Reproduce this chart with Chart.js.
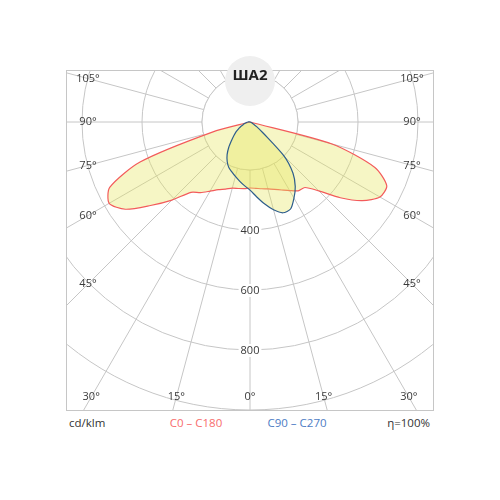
<!DOCTYPE html>
<html>
<head>
<meta charset="utf-8">
<script src="https://cdn.jsdelivr.net/npm/chart.js@4.4.1/dist/chart.umd.min.js"></script>
<style>
  html, body { margin: 0; padding: 0; background: #fff; }
  body { width: 500px; height: 500px; position: relative; overflow: hidden; font-family: "Open Sans", sans-serif; color: #333; }
  #frame { position: absolute; left: 66px; top: 70px; width: 366px; height: 339px; border: 1px solid #c6c6c6; overflow: hidden; }
  #diagram { position: absolute; }
  #badge { position: absolute; left: 225px; top: 56px; width: 50px; height: 50px; border-radius: 50%; background: #efefef; }
  #title { position: absolute; left: 200px; width: 100px; top: 64px; text-align: center; font-weight: bold; font-size: 15px; line-height: 20px; color: #222; }
  .foot { position: absolute; top: 414px; font-size: 11.5px; line-height: 18px; white-space: nowrap; }
</style>
</head>
<body>
<div id="frame"><canvas id="diagram" width="696" height="696"></canvas></div>
<div id="badge"></div>
<div id="title">ША2</div>
<div class="foot" style="left:69px">cd/klm</div>
<div class="foot" style="left:146px;width:100px;text-align:center;color:#f76d6d">C0 – C180</div>
<div class="foot" style="left:247px;width:100px;text-align:center;color:#4d7cc4">C90 – C270</div>
<div class="foot" style="right:70px">η=100%</div>
<script>
// gamma angles, 0° = straight down, 180° = straight up
var gammas = [0, 5, 10, 15, 20, 25, 30, 35, 40, 45, 50, 55, 60, 65, 70, 75, 80, 85, 90,
              95, 100, 105, 110, 115, 120, 125, 130, 135, 140, 145, 150, 155, 160, 165, 170, 175, 180];

// cd/klm, left half of the diagram
var c180 = [260, 263, 265, 268, 278, 289, 306, 327, 346, 408, 473, 547, 582, 556, 430, 170, 40, 40, 40,
            40, 40, 40, 40, 40, 40, 40, 40, 40, 40, 40, 40, 40, 40, 40, 40, 40, 40];
var c270 = [267, 253, 240, 228, 217, 207, 192, 173, 150, 127, 110, 97, 83, 73, 63, 57, 53, 50, 47,
            45, 43, 42, 40, 40, 40, 40, 40, 40, 40, 40, 40, 40, 40, 40, 40, 40, 40];
// cd/klm, right half of the diagram
var c0 = [260, 262, 266, 271, 279, 290, 304, 320, 325, 365, 433, 497, 540, 543, 483, 323, 40, 40, 40,
          40, 40, 40, 40, 40, 40, 40, 40, 40, 40, 40, 40, 40, 40, 40, 40, 40, 40];
var c90 = [267, 290, 317, 343, 362, 360, 333, 303, 263, 200, 97, 67, 53, 47, 43, 40, 40, 40, 40,
           40, 40, 40, 40, 40, 40, 40, 40, 40, 40, 40, 40, 40, 40, 40, 40, 40, 40];

var rings = [200, 400, 600, 800, 1000, 1200];
var ringLabels = [400, 600, 800];
var angleLabels = [0, 15, 30, 45, 60, 75, 90, 105];
var rMin = 40;

var gridColor = '#c6c6c6';
var textColor = '#3a3a3a';
// visible part of the canvas (the frame), in canvas pixels
var view = { x: 165, y: 297, w: 366, h: 339 };

var canvas = document.getElementById('diagram');
canvas.style.left = -view.x + 'px';
canvas.style.top = -view.y + 'px';

var steps = (gammas.length - 1) * 2;
var labels = [];
for (var i = 0; i < steps; i++) labels.push(i * 5 + '°');

function around(left, right) {
    var out = [];
    for (var i = 0; i < steps; i++) out.push(i <= gammas.length - 1 ? left[i] : right[steps - i]);
    return out;
}

var innerDisk = {
    id: 'innerDisk',
    beforeDatasetsDraw: function(chart) {
        var s = chart.scales.r, ctx = chart.ctx;
        var d = s.getDistanceFromCenterForValue(rings[0]);
        ctx.save();
        ctx.beginPath();
        ctx.arc(s.xCenter, s.yCenter, d, 0, Math.PI * 2);
        ctx.fillStyle = '#fff';
        ctx.fill();
        ctx.strokeStyle = gridColor;
        ctx.lineWidth = 1;
        ctx.stroke();
        ctx.restore();
    }
};

var diagramText = {
    id: 'diagramText',
    afterDraw: function(chart) {
        var s = chart.scales.r, ctx = chart.ctx;
        ctx.save();
        ctx.font = '11px "Open Sans"';
        ctx.textAlign = 'center';
        ctx.textBaseline = 'middle';
        ringLabels.forEach(function(v) {
            var p = s.getPointPositionForValue(0, v);
            var w = ctx.measureText(String(v)).width;
            ctx.fillStyle = '#fff';
            ctx.fillRect(p.x - w / 2 - 2, p.y - 6, w + 4, 13);
            ctx.fillStyle = textColor;
            ctx.fillText(String(v), p.x, p.y + 1);
        });
        var left = view.x + 21, right = view.x + view.w - 21, bottom = view.y + view.h - 13;
        angleLabels.forEach(function(g) {
            var idx = [g / 5, (steps - g / 5) % steps].filter(function(v, k, a) { return a.indexOf(v) === k; });
            idx.forEach(function(i) {
                var q = s.getPointPosition(i, 1);
                var dx = q.x - s.xCenter, dy = q.y - s.yCenter;
                var t = Infinity;
                if (dx < -1e-6) t = Math.min(t, (left - s.xCenter) / dx);
                if (dx > 1e-6) t = Math.min(t, (right - s.xCenter) / dx);
                if (dy > 1e-6) t = Math.min(t, (bottom - s.yCenter) / dy);
                ctx.fillStyle = textColor;
                ctx.fillText(g + '°', s.xCenter + dx * t, s.yCenter + dy * t);
            });
        });
        ctx.restore();
    }
};

var diagram = new Chart(canvas.getContext('2d'), {
    type: 'radar',
    data: {
        labels: labels,
        datasets: [{
            label: 'C0 – C180',
            data: around(c180, c0),
            borderColor: '#f35b5b',
            backgroundColor: 'rgba(228,228,90,0.35)',
            borderWidth: 1.2,
            fill: 'start',
            pointRadius: 0,
            tension: 0.25,
            order: 1
        }, {
            label: 'C90 – C270',
            data: around(c270, c90),
            borderColor: '#2d5d8c',
            backgroundColor: 'rgba(228,228,90,0.35)',
            borderWidth: 1.2,
            fill: 'start',
            pointRadius: 0,
            tension: 0.25,
            order: 0
        }]
    },
    options: {
        responsive: false,
        devicePixelRatio: 1,
        animation: false,
        layout: { padding: 0 },
        plugins: {
            legend: { display: false },
            tooltip: { enabled: false }
        },
        scales: {
            r: {
                min: rMin,
                max: rings[rings.length - 1],
                startAngle: 180,
                afterBuildTicks: function(s) {
                    s.ticks = [rMin].concat(rings).map(function(v) { return { value: v }; });
                },
                ticks: { display: false, stepSize: 200 },
                pointLabels: { display: false },
                grid: { circular: true, color: gridColor, lineWidth: 1 },
                angleLines: {
                    color: gridColor,
                    lineWidth: function(c) { return c.index % 3 === 0 ? 1 : 0; }
                }
            }
        }
    },
    plugins: [innerDisk, diagramText]
});
</script>
</body>
</html>
